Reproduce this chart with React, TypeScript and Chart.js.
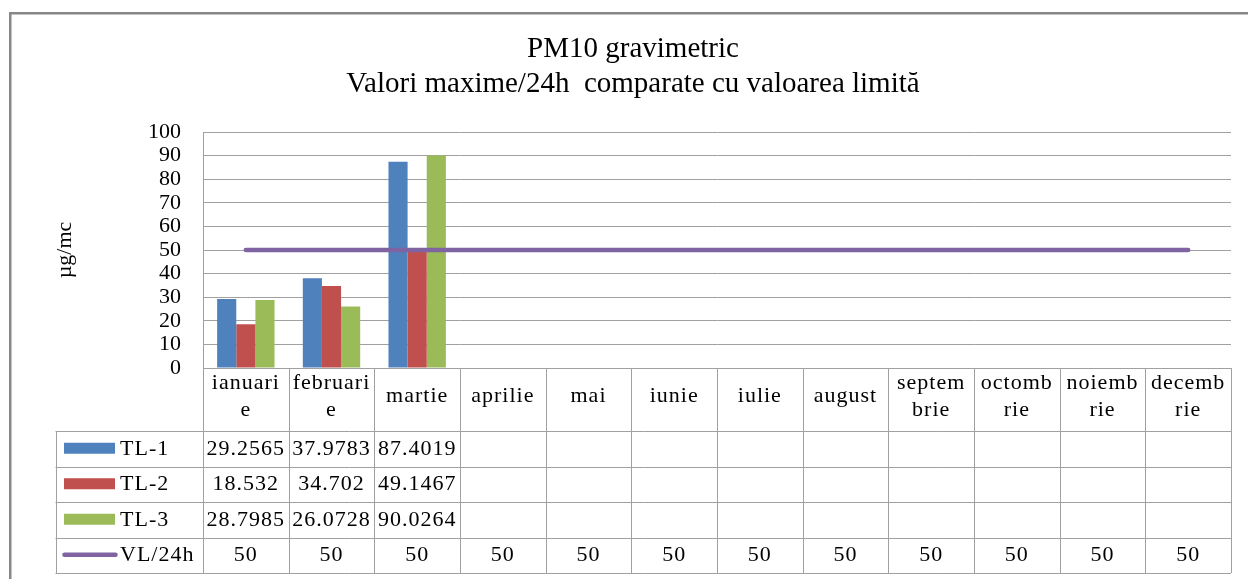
import { useEffect, useRef } from 'react';
import { Chart, registerables } from 'chart.js';

Chart.register(...registerables);

// ---- data ----
const months = ['ianuarie', 'februarie', 'martie', 'aprilie', 'mai', 'iunie', 'iulie', 'august', 'septembrie', 'octombrie', 'noiembrie', 'decembrie'];
const monthHeaderLabels = [
  ['ianuari', 'e'], ['februari', 'e'], ['martie'], ['aprilie'], ['mai'], ['iunie'],
  ['iulie'], ['august'], ['septem', 'brie'], ['octomb', 'rie'], ['noiemb', 'rie'], ['decemb', 'rie'],
];
const tl1 = [29.2565, 37.9783, 87.4019, null, null, null, null, null, null, null, null, null];
const tl2 = [18.532, 34.702, 49.1467, null, null, null, null, null, null, null, null, null];
const tl3 = [28.7985, 26.0728, 90.0264, null, null, null, null, null, null, null, null, null];
const vl24h = [50, 50, 50, 50, 50, 50, 50, 50, 50, 50, 50, 50];
const seriesNames = ['TL-1', 'TL-2', 'TL-3', 'VL/24h'];
const seriesColors = ['#4F81BD', '#C0504D', '#9BBB59', '#8064A2'];
const titleLines = ['PM10 gravimetric', 'Valori maxime/24h  comparate cu valoarea limită'];
const yAxisTitle = 'µg/mc';
const yMin = 0;
const yMax = 100;
const yStep = 10;

const FONT = '"Liberation Serif", "Times New Roman", serif';
const GRID = '#a0a0a0';

const framePlugin = {
  id: 'frame',
  beforeDraw(chart: any) {
    const { ctx, width, height } = chart;
    ctx.save();
    ctx.fillStyle = '#ffffff';
    ctx.fillRect(0, 0, width, height);
    ctx.strokeStyle = '#878787';
    ctx.lineWidth = 2.5;
    ctx.beginPath();
    ctx.moveTo(10.25, height + 10);
    ctx.lineTo(10.25, 13.25);
    ctx.lineTo(width + 10, 13.25);
    ctx.stroke();
    ctx.restore();
  },
};

const tablePlugin = {
  id: 'dataTable',
  afterDraw(chart: any) {
    const { ctx, chartArea } = chart;
    const xs = chart.scales.x;
    const n = months.length;
    const left = chartArea.left;
    const right = chartArea.right;
    const colW = (right - left) / n;
    const headerTop = chartArea.bottom;
    const headerBottom = headerTop + 63;
    const rowH = 35.5;
    const rows = seriesNames.length;
    const tableBottom = headerBottom + rowH * rows;
    const legendLeft = 55.5;
    const px = (v: number) => Math.round(v) + 0.5;

    ctx.save();
    ctx.strokeStyle = GRID;
    ctx.lineWidth = 1;
    ctx.beginPath();
    ctx.moveTo(left, px(headerTop));
    ctx.lineTo(right, px(headerTop));
    for (let r = 0; r <= rows; r++) {
      const y = px(headerBottom + r * rowH);
      ctx.moveTo(legendLeft, y);
      ctx.lineTo(right, y);
    }
    for (let i = 0; i <= n; i++) {
      const x = px(left + i * colW);
      ctx.moveTo(x, headerTop);
      ctx.lineTo(x, tableBottom);
    }
    ctx.moveTo(px(legendLeft), px(headerBottom));
    ctx.lineTo(px(legendLeft), tableBottom);
    ctx.stroke();

    ctx.fillStyle = '#000';
    ctx.font = `22px ${FONT}`;
    (ctx as any).letterSpacing = '1px';
    ctx.textAlign = 'center';
    ctx.textBaseline = 'middle';

    const headerMid = (headerTop + headerBottom) / 2 - 0.5;
    for (let i = 0; i < n; i++) {
      const cx = xs.getPixelForValue(i);
      const lines = monthHeaderLabels[i];
      const gap = 27;
      const y0 = headerMid - 2.4 - ((lines.length - 1) * gap) / 2;
      lines.forEach((t, k) => ctx.fillText(t, cx, y0 + k * gap));
    }

    const allSeries = [tl1, tl2, tl3, vl24h];
    allSeries.forEach((vals, r) => {
      const cy = headerBottom + (r + 0.5) * rowH;
      vals.forEach((v, i) => {
        if (v === null || v === undefined) return;
        ctx.fillText(String(v), xs.getPixelForValue(i), cy);
      });
    });

    ctx.textAlign = 'left';
    seriesNames.forEach((name, r) => {
      const cy = headerBottom + (r + 0.5) * rowH;
      if (r < 3) {
        ctx.fillStyle = seriesColors[r];
        ctx.fillRect(64, cy - 6, 51, 11);
      } else {
        ctx.strokeStyle = seriesColors[r];
        ctx.lineWidth = 4.5;
        ctx.lineCap = 'round';
        ctx.beginPath();
        ctx.moveTo(64.5, cy - 0.5);
        ctx.lineTo(115.5, cy - 0.5);
        ctx.stroke();
      }
      ctx.fillStyle = '#000';
      ctx.fillText(name, 120, cy);
    });
    (ctx as any).letterSpacing = '0px';
    ctx.restore();
  },
};

export default function App() {
  const ref = useRef<HTMLCanvasElement>(null);

  useEffect(() => {
    const chart = new Chart(ref.current as HTMLCanvasElement, {
      type: 'bar',
      data: {
        labels: months,
        datasets: [
          { type: 'line', label: seriesNames[3], data: vl24h, borderColor: seriesColors[3], backgroundColor: seriesColors[3], borderWidth: 4.5, pointRadius: 0, borderCapStyle: 'round', fill: false, tension: 0, order: 0 } as any,
          { label: seriesNames[0], data: tl1, backgroundColor: seriesColors[0], borderWidth: 0, categoryPercentage: 0.67, barPercentage: 1, order: 1 },
          { label: seriesNames[1], data: tl2, backgroundColor: seriesColors[1], borderWidth: 0, categoryPercentage: 0.67, barPercentage: 1, order: 1 },
          { label: seriesNames[2], data: tl3, backgroundColor: seriesColors[2], borderWidth: 0, categoryPercentage: 0.67, barPercentage: 1, order: 1 },
        ],
      },
      options: {
        responsive: false,
        animation: false,
        devicePixelRatio: 1,
        layout: { padding: { top: 0, left: 35, right: 17, bottom: 211 } },
        plugins: {
          legend: { display: false },
          tooltip: { enabled: false },
          title: {
            display: true,
            text: titleLines,
            color: '#000',
            font: { family: FONT, size: 29, weight: 'normal', lineHeight: '35px' },
            padding: { top: 32, bottom: 30 },
          },
        },
        scales: {
          x: {
            display: false,
            offset: true,
          },
          y: {
            min: yMin,
            max: yMax,
            afterFit: (scale: any) => { scale.width = 168; },
            ticks: {
              stepSize: yStep,
              autoSkip: false,
              color: '#000',
              padding: 22,
              font: { family: FONT, size: 22 },
            },
            grid: { color: GRID, lineWidth: 1, drawTicks: false },
            border: { display: true, color: GRID, width: 1 },
            title: {
              display: true,
              text: yAxisTitle,
              color: '#000',
              font: { family: FONT, size: 22 },
              padding: { top: 17, bottom: 0 },
            },
          },
        },
      } as any,
      plugins: [framePlugin, tablePlugin],
    });
    return () => chart.destroy();
  }, []);

  return (
    <div style={{ position: 'fixed', left: 0, top: 0, width: 1248, height: 579, background: '#fff' }}>
      <canvas ref={ref} width={1248} height={579} style={{ display: 'block', width: 1248, height: 579 }} />
    </div>
  );
}
